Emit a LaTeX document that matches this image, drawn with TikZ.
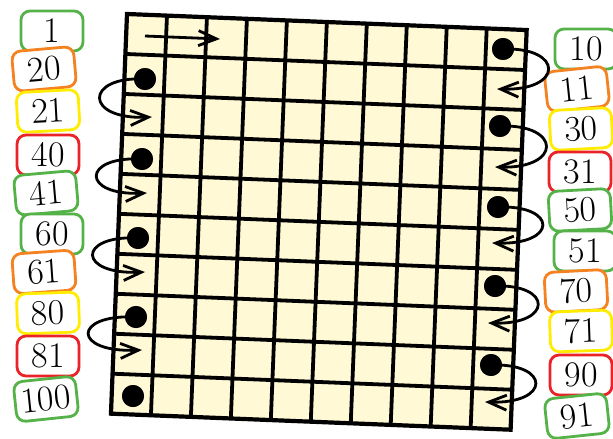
\documentclass[tikz,border=0pt]{standalone}
\usetikzlibrary{arrows.meta}
\definecolor{gridfill}{RGB}{255,249,214}
\definecolor{cgreen}{RGB}{84,178,72}
\definecolor{corange}{RGB}{245,130,32}
\definecolor{cyellow}{RGB}{255,236,0}
\definecolor{cred}{RGB}{234,35,40}
\begin{document}
\begin{tikzpicture}[x=1pt,y=-1pt,
  lab/.style={draw=#1, fill=white, line width=2.8pt, rounded corners=9pt,
    minimum width=62pt, minimum height=40pt, inner sep=0pt,
    font=\fontsize{36}{36}\selectfont},
  dot/.style={circle, fill=black, minimum size=22pt, inner sep=0pt},
  arr/.style={line width=2.8pt, -{Straight Barb[length=18pt,width=15pt]}},
  gridline/.style={line width=3.8pt},
]
\useasboundingbox (0,0) rectangle (613,439);

% grid
\begin{scope}[shift={(127,14)}, rotate=-2.3]
  \fill[gridfill] (0,0) rectangle (400,400);
  \foreach \i in {1,...,9} {
    \draw[gridline] (\i*40,0) -- (\i*40,400);
    \draw[gridline] (0,\i*40) -- (400,\i*40);
  }
  \draw[line width=4.2pt, line join=miter] (0,0) -- (400,0) -- (400,400) -- (0,400) -- cycle;
\end{scope}

% left labels
\node[lab=cgreen]            (n1)   at (52,31)  {1};
\node[lab=corange, rotate=5] (n20)  at (44,69)  {20};
\node[lab=cyellow, rotate=3] (n21)  at (48,111) {21};
\node[lab=cred]              (n40)  at (48,155) {40};
\node[lab=cgreen, rotate=5]  (n41)  at (46,193) {41};
\node[lab=cgreen]            (n60)  at (52,234) {60};
\node[lab=corange, rotate=4] (n61)  at (44,272) {61};
\node[lab=cyellow, rotate=2] (n80)  at (48,313) {80};
\node[lab=cred]              (n81)  at (48,356) {81};
\node[lab=cgreen, rotate=6]  (n100) at (46,399) {100};

% right labels
\node[lab=cgreen]            (n10) at (586,49)  {10};
\node[lab=corange, rotate=6] (n11) at (577,89)  {11};
\node[lab=cyellow, rotate=3] (n30) at (581,129) {30};
\node[lab=cred]              (n31) at (580,172) {31};
\node[lab=cgreen, rotate=3]  (n50) at (580,210) {50};
\node[lab=cgreen]            (n51) at (585,251) {51};
\node[lab=corange, rotate=3] (n70) at (576,291) {70};
\node[lab=cyellow, rotate=2] (n71) at (581,331) {71};
\node[lab=cred]              (n90) at (581,375) {90};
\node[lab=cgreen, rotate=6]  (n91) at (577,416) {91};

% dots
\node[dot] (dL1) at (145,79) {};
\node[dot] (dL2) at (142,159) {};
\node[dot] (dL3) at (138,238) {};
\node[dot] (dL4) at (136,317) {};
\node[dot] (dL5) at (133,396) {};
\node[dot] (dR1) at (503,49) {};
\node[dot] (dR2) at (500,126) {};
\node[dot] (dR3) at (498,207) {};
\node[dot] (dR4) at (495,286) {};
\node[dot] (dR5) at (491,365) {};

% arrow tips
\coordinate (tL1) at (152,117);
\coordinate (tL2) at (147,193);
\coordinate (tL3) at (145,272);
\coordinate (tL4) at (142,350);
\coordinate (tR1) at (497,89);
\coordinate (tR2) at (495,167);
\coordinate (tR3) at (492,243);
\coordinate (tR4) at (488,323);
\coordinate (tR5) at (485,402);
\coordinate (ts) at (145,36);
\coordinate (te) at (220,39);

% arrows
\draw[arr] (ts) -- (te);
\draw[arr] (dL1.center) .. controls +(-61,-3) and +(-68,3) .. (tL1);
\draw[arr] (dL2.center) .. controls +(-61,-3) and +(-66,3) .. (tL2);
\draw[arr] (dL3.center) .. controls +(-61,-3) and +(-68,3) .. (tL3);
\draw[arr] (dL4.center) .. controls +(-64,-3) and +(-70,3) .. (tL4);
\draw[arr] (dR1.center) .. controls +(61,-2) and +(67,2) .. (tR1);
\draw[arr] (dR2.center) .. controls +(62,-2) and +(67,2) .. (tR2);
\draw[arr] (dR3.center) .. controls +(60,-2) and +(66,2) .. (tR3);
\draw[arr] (dR4.center) .. controls +(58,-2) and +(65,2) .. (tR4);
\draw[arr] (dR5.center) .. controls +(60,-2) and +(66,2) .. (tR5);

% redraw dots on top
\foreach \d in {dL1,dL2,dL3,dL4,dL5,dR1,dR2,dR3,dR4,dR5}
  \fill (\d.center) circle (11pt);
\end{tikzpicture}
\end{document}
